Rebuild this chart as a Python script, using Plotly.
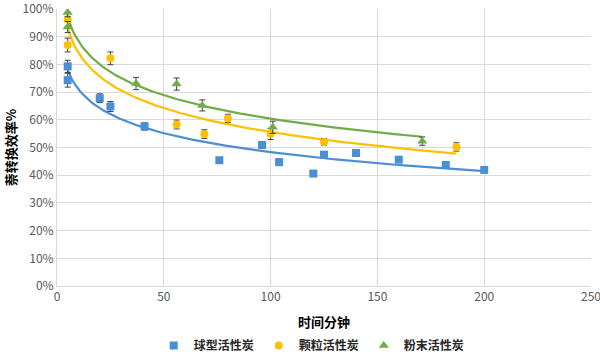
import numpy as np
import plotly.graph_objects as go

# Data
series_names = ["球型活性炭", "颗粒活性炭", "粉末活性炭"]

blue_x = [5, 5, 20, 25, 41, 76, 96, 104, 120, 125, 140, 160, 182, 200]
blue_y = [79.3, 74.3, 67.8, 64.8, 57.6, 45.4, 50.9, 44.7, 40.6, 47.4, 48.0, 45.6, 43.7, 41.9]
blue_err = [2.2, 2.5, 1.6, 1.8, 1.3, 0.9, 1.1, 1.2, 1.0, 1.0, 1.0, 1.0, 1.0, 0.8]

orange_x = [5, 5, 25, 56, 69, 80, 100, 125, 187]
orange_y = [96.3, 87.0, 82.2, 58.3, 54.8, 60.5, 54.9, 52.0, 50.2]
orange_err = [2.5, 2.5, 2.3, 1.6, 1.6, 1.5, 2.0, 1.2, 1.5]

green_x = [5, 5, 37, 56, 68, 101, 171]
green_y = [98.7, 93.5, 73.1, 72.9, 65.2, 57.3, 52.3]
green_err = [1.5, 2.0, 2.2, 2.2, 2.0, 2.2, 1.5]

colors = ["#4A8FD4", "#FFC000", "#70AD47"]
symbols = ["square", "circle", "triangle-up"]

xs = [blue_x, orange_x, green_x]
ys = [blue_y, orange_y, green_y]
errs = [blue_err, orange_err, green_err]

fig = go.Figure()

# logarithmic trendlines (fitted to the data, like Excel's log trendline)
for x, y, c in zip(xs, ys, colors):
    xa = np.array(x, dtype=float)
    ya = np.array(y, dtype=float)
    a, b = np.polyfit(np.log(xa), ya, 1)
    xt = np.linspace(xa.min(), xa.max(), 200)
    fig.add_trace(go.Scatter(x=xt, y=a * np.log(xt) + b, mode="lines",
                             line=dict(color=c, width=2.2), showlegend=False,
                             hoverinfo="skip"))

for name, x, y, e, c, s in zip(series_names, xs, ys, errs, colors, symbols):
    fig.add_trace(go.Scatter(
        x=x, y=y, mode="markers", name="<b>" + name + "</b>",
        marker=dict(color=c, symbol=s, size=8 if s != "triangle-up" else 9),
        error_y=dict(type="data", array=e, visible=True, color="#404040",
                     thickness=1, width=3),
    ))

fig.update_layout(
    width=600, height=360,
    margin=dict(l=57, r=9, t=9, b=74, autoexpand=False),
    paper_bgcolor="white", plot_bgcolor="white",
    font=dict(family="Noto Sans CJK SC, Noto Sans", size=12, color="#595959"),
    legend=dict(orientation="h", x=0.477, xanchor="center",
                yref="container", y=-0.012, yanchor="bottom",
                font=dict(size=12, color="#262626", family="Noto Sans CJK SC"),
                itemwidth=30, tracegroupgap=0),
    showlegend=True,
)

fig.update_xaxes(range=[0, 250], dtick=50, showgrid=True, gridcolor="#D9D9D9",
                 gridwidth=1, zeroline=False, showline=True, linecolor="#D9D9D9",
                 mirror=False, ticks="", ticklabeloverflow="allow", automargin=False,
                 tickfont=dict(size=12, color="#595959"),
                 title=dict(text="<b>时间分钟</b>", standoff=16,
                            font=dict(size=13, color="#000000")))
fig.update_yaxes(range=[0, 100], dtick=10, ticksuffix="%", showgrid=True,
                 gridcolor="#D9D9D9", gridwidth=1, zeroline=False, showline=True,
                 linecolor="#D9D9D9", ticks="", ticklabeloverflow="allow", automargin=False,
                 tickfont=dict(size=12, color="#595959"),
                 title=dict(text="<b>萘转换效率%</b>", standoff=3,
                            font=dict(size=13, color="#000000")))

fig.write_html("out.html", config={"displayModeBar": False},
               post_script="document.body.style.margin='0';")
